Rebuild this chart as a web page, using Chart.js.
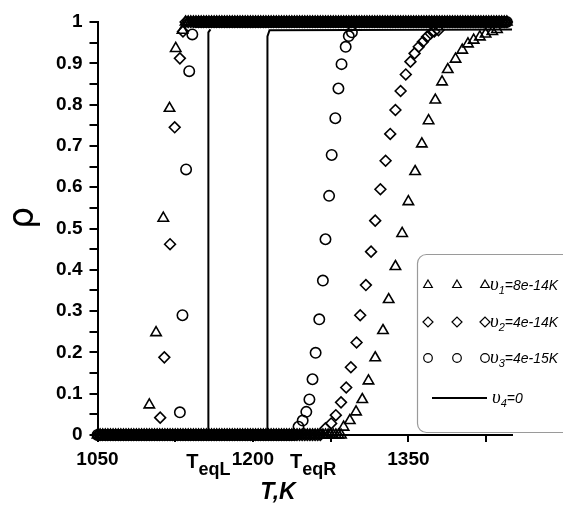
<!DOCTYPE html>
<html>
<head>
<meta charset="utf-8">
<script src="https://cdn.jsdelivr.net/npm/chart.js@4.4.1/dist/chart.umd.min.js"></script>
<style>
  html, body { margin: 0; padding: 0; background: #fff; }
  #wrap { width: 563px; height: 513px; }
</style>
</head>
<body>
<div id="wrap"><canvas id="rhoChart" width="563" height="513"></canvas></div>
<script>
// temperatures (K) sampled along the flat parts, rho = 0 or rho = 1
const plateauT = [
  1050, 1052.5, 1055, 1057.5, 1060, 1062.5, 1065, 1067.5,
  1070, 1072.5, 1075, 1077.5, 1080, 1082.5, 1085, 1087.5,
  1090, 1092.5, 1095, 1097.5, 1100, 1102.5, 1105, 1107.5,
  1110, 1112.5, 1115, 1117.5, 1120, 1122.5, 1125, 1127.5,
  1130, 1132.5, 1135, 1137.5, 1140, 1142.5, 1145, 1147.5,
  1150, 1152.5, 1155, 1157.5, 1160, 1162.5, 1165, 1167.5,
  1170, 1172.5, 1175, 1177.5, 1180, 1182.5, 1185, 1187.5,
  1190, 1192.5, 1195, 1197.5, 1200, 1202.5, 1205, 1207.5,
  1210, 1212.5, 1215, 1217.5, 1220, 1222.5, 1225, 1227.5,
  1230, 1232.5, 1235, 1237.5, 1240, 1242.5, 1245, 1247.5,
  1250, 1252.5, 1255, 1257.5, 1260, 1262.5, 1265, 1267.5,
  1270, 1272.5, 1275, 1277.5, 1280, 1282.5, 1285, 1287.5,
  1290, 1292.5, 1295, 1297.5, 1300, 1302.5, 1305, 1307.5,
  1310, 1312.5, 1315, 1317.5, 1320, 1322.5, 1325, 1327.5,
  1330, 1332.5, 1335, 1337.5, 1340, 1342.5, 1345, 1347.5,
  1350, 1352.5, 1355, 1357.5, 1360, 1362.5, 1365, 1367.5,
  1370, 1372.5, 1375, 1377.5, 1380, 1382.5, 1385, 1387.5,
  1390, 1392.5, 1395, 1397.5, 1400, 1402.5, 1405, 1407.5,
  1410, 1412.5, 1415, 1417.5, 1420, 1422.5, 1425, 1427.5,
  1430, 1432.5, 1435, 1437.5, 1440, 1442.5, 1445
];

// v1 = 8e-14 K (triangles)
const v1BottomEnd = 1285;   // rho = 0 up to here
const v1TopStart = 1135;    // rho = 1 from here
const v1LeftT   = [1100, 1106.5, 1113.5, 1119.5, 1125.5, 1132];
const v1LeftRho = [0.073, 0.248, 0.525, 0.791, 0.936, 0.98];
const v1RightT   = [1287.5, 1293.5, 1299.5, 1305.5, 1311.5, 1318, 1325.5, 1331, 1337.5, 1344, 1350, 1356.5, 1363,
                    1369.5, 1376, 1382.5, 1388, 1395.5, 1402, 1407.5, 1413, 1419, 1424.5, 1431, 1435.5];
const v1RightRho = [0.019, 0.035, 0.056, 0.086, 0.131, 0.187, 0.253, 0.328, 0.408, 0.488, 0.565, 0.638, 0.705,
                    0.761, 0.811, 0.855, 0.885, 0.91, 0.932, 0.947, 0.956, 0.964, 0.971, 0.977, 0.982];

// v2 = 4e-14 K (diamonds)
const v2BottomEnd = 1265;
const v2TopStart = 1135;
const v2LeftT   = [1110.5, 1114.5, 1120, 1124.5, 1129.5, 1132.5];
const v2LeftRho = [0.042, 0.188, 0.462, 0.745, 0.912, 0.977];
const v2RightT   = [1270, 1275.5, 1280, 1285, 1290, 1294.5, 1300, 1303.5, 1309, 1314, 1318, 1323, 1328,
                    1332.5, 1337.5, 1342.5, 1347.5, 1352, 1356, 1360, 1364, 1368, 1371.5, 1375, 1379];
const v2RightRho = [0.016, 0.028, 0.048, 0.079, 0.115, 0.164, 0.224, 0.29, 0.363, 0.444, 0.519, 0.595, 0.664,
                    0.729, 0.787, 0.833, 0.873, 0.904, 0.924, 0.94, 0.952, 0.964, 0.972, 0.977, 0.98];

// v3 = 4e-15 K (circles)
const v3BottomEnd = 1240;
const v3TopStart = 1145;
const v3LeftT   = [1129.5, 1132, 1135.5, 1138.5, 1141.5];
const v3LeftRho = [0.055, 0.29, 0.643, 0.881, 0.97];
const v3RightT   = [1244, 1248, 1251.5, 1254.5, 1257.5, 1260.5, 1264, 1267.5, 1270, 1273.5, 1276, 1279.5,
                    1282.5, 1285.5, 1289.5, 1292.5, 1295.5];
const v3RightRho = [0.02, 0.035, 0.056, 0.086, 0.135, 0.199, 0.28, 0.374, 0.474, 0.579, 0.678, 0.767,
                    0.839, 0.898, 0.94, 0.966, 0.975];

// v4 = 0 (solid line): heating jump and cooling jump
const v4HeatT   = [1050, 1214, 1214, 1216, 1450];
const v4HeatRho = [0, 0, 0.965, 0.98, 0.982];
const v4CoolT   = [1157, 1157, 1159];
const v4CoolRho = [0, 0.975, 0.982];

// axis ticks
const xTickValues = [1050, 1125, 1200, 1275, 1350, 1425];
const xTickLabels = ['1050', '', '1200', '', '1350', ''];
const teqMarks = [{ t: 1157, sub: 'eqL' }, { t: 1258, sub: 'eqR' }];

const legendRows = [
  { style: 'triangle', r: 5, sym: 'υ', sub: '1', text: '=8e-14K' },
  { style: 'rectRot', r: 5, sym: 'υ', sub: '2', text: '=4e-14K' },
  { style: 'circle', r: 4.3, sym: 'υ', sub: '3', text: '=4e-15K' },
  { style: 'line', sym: 'υ', sub: '4', text: '=0' }
];

function toPoints(ts, rs) {
  return ts.map((t, i) => ({ x: t, y: rs[i] }));
}

function seriesPoints(bottomEnd, topStart, leftT, leftRho, rightT, rightRho) {
  const bottom = plateauT.filter(t => t <= bottomEnd).map(t => ({ x: t, y: 0 }));
  const top = plateauT.filter(t => t >= topStart).map(t => ({ x: t, y: 1 }));
  return bottom.concat(toPoints(leftT, leftRho), toPoints(rightT, rightRho), top);
}

const sansFont = '"Liberation Sans", Arial, sans-serif';

function markerDataset(label, pts, style, radius) {
  return {
    label: label,
    data: pts,
    showLine: false,
    pointStyle: style,
    pointRadius: radius,
    pointBorderWidth: 1.6,
    pointBorderColor: '#000',
    pointBackgroundColor: 'rgba(0,0,0,0)',
    clip: false
  };
}

function lineDataset(label, pts) {
  return {
    label: label,
    data: pts,
    showLine: true,
    borderColor: '#000',
    borderWidth: 2,
    pointRadius: 0,
    tension: 0,
    clip: false
  };
}

// legend box, axis titles and T_eq labels
const extrasPlugin = {
  id: 'extras',
  afterDraw(chart) {
    const ctx = chart.ctx;
    const xs = chart.scales.x;
    ctx.save();

    // T_eq labels under the axis
    teqMarks.forEach(m => {
      const px = xs.getPixelForValue(m.t);
      ctx.font = 'bold 20px ' + sansFont;
      const wT = ctx.measureText('T').width;
      ctx.font = 'bold 18px ' + sansFont;
      const wS = ctx.measureText(m.sub).width;
      const x0 = px - (wT + wS) / 2;
      ctx.fillStyle = '#000';
      ctx.textBaseline = 'alphabetic';
      ctx.textAlign = 'left';
      ctx.font = 'bold 20px ' + sansFont;
      ctx.fillText('T', x0, 468);
      ctx.font = 'bold 18px ' + sansFont;
      ctx.fillText(m.sub, x0 + wT, 475);
    });

    // axis titles
    ctx.font = 'bold italic 23px ' + sansFont;
    ctx.textAlign = 'center';
    ctx.textBaseline = 'middle';
    ctx.fillText('T,K', 278, 493);

    ctx.save();
    ctx.translate(24, 218);
    ctx.rotate(-Math.PI / 2);
    ctx.font = '35px "DejaVu Sans", sans-serif';
    ctx.fillText('ρ', 0, 0);
    ctx.restore();

    // legend
    ctx.beginPath();
    ctx.roundRect(417.5, 254.5, 170, 178, 9);
    ctx.fillStyle = '#fff';
    ctx.fill();
    ctx.strokeStyle = '#9a9a9a';
    ctx.lineWidth = 1.2;
    ctx.stroke();

    const rowY = [285, 322, 358, 398];
    legendRows.forEach((row, i) => {
      const y = rowY[i];
      ctx.strokeStyle = '#000';
      ctx.fillStyle = 'rgba(0,0,0,0)';
      if (row.style === 'line') {
        ctx.beginPath();
        ctx.lineWidth = 2;
        ctx.moveTo(432, y);
        ctx.lineTo(487, y);
        ctx.stroke();
      } else {
        [428, 457, 485].forEach(mx => {
          Chart.helpers.drawPoint(ctx, { pointStyle: row.style, radius: row.r, borderWidth: 1.3, rotation: 0 }, mx, y);
        });
      }
      let tx = row.style === 'line' ? 492 : 490;
      ctx.fillStyle = '#000';
      ctx.textAlign = 'left';
      ctx.textBaseline = 'alphabetic';
      ctx.font = 'italic 19px "Liberation Serif", serif';
      ctx.fillText(row.sym, tx, y + 5);
      tx += ctx.measureText(row.sym).width;
      ctx.font = 'italic 11px ' + sansFont;
      ctx.fillText(row.sub, tx, y + 9);
      tx += ctx.measureText(row.sub).width;
      ctx.font = 'italic 14px ' + sansFont;
      ctx.fillText(row.text, tx, y + 5);
    });

    ctx.restore();
  }
};

const rhoChart = new Chart(document.getElementById('rhoChart'), {
  type: 'scatter',
  data: {
    datasets: [
      lineDataset('υ4=0', toPoints(v4HeatT, v4HeatRho)),
      lineDataset('υ4=0 cooling', toPoints(v4CoolT, v4CoolRho)),
      markerDataset('υ1=8e-14K', seriesPoints(v1BottomEnd, v1TopStart, v1LeftT, v1LeftRho, v1RightT, v1RightRho), 'triangle', 6),
      markerDataset('υ2=4e-14K', seriesPoints(v2BottomEnd, v2TopStart, v2LeftT, v2LeftRho, v2RightT, v2RightRho), 'rectRot', 5.4),
      markerDataset('υ3=4e-15K', seriesPoints(v3BottomEnd, v3TopStart, v3LeftT, v3LeftRho, v3RightT, v3RightRho), 'circle', 5.2)
    ]
  },
  options: {
    responsive: false,
    animation: false,
    layout: { padding: { top: 22, right: 51, bottom: 0, left: 0 } },
    plugins: {
      legend: { display: false },
      tooltip: { enabled: false }
    },
    scales: {
      x: {
        type: 'linear',
        min: 1050,
        max: 1450,
        afterBuildTicks: scale => { scale.ticks = xTickValues.map(v => ({ value: v })); },
        afterFit: scale => { scale.height = 78; },
        grid: { drawOnChartArea: false, drawTicks: true, tickLength: 7, color: '#000', lineWidth: 2 },
        border: { display: true, color: '#000', width: 2 },
        ticks: {
          padding: 6,
          color: '#000',
          maxRotation: 0,
          autoSkip: false,
          font: { family: sansFont, size: 19, weight: 'bold' },
          callback: (value, index) => xTickLabels[index]
        }
      },
      y: {
        min: 0,
        max: 1,
        afterFit: scale => { scale.width = 97.5; },
        grid: { drawOnChartArea: false, drawTicks: true, tickLength: 8, color: '#000', lineWidth: 2 },
        border: { display: true, color: '#000', width: 2 },
        ticks: {
          stepSize: 0.05,
          padding: 7,
          color: '#000',
          autoSkip: false,
          font: { family: sansFont, size: 19, weight: 'bold' },
          callback: value => {
            const v = Math.round(value * 100);
            return v % 10 === 0 ? String(v / 100) : '';
          }
        }
      }
    }
  },
  plugins: [extrasPlugin]
});
</script>
</body>
</html>
